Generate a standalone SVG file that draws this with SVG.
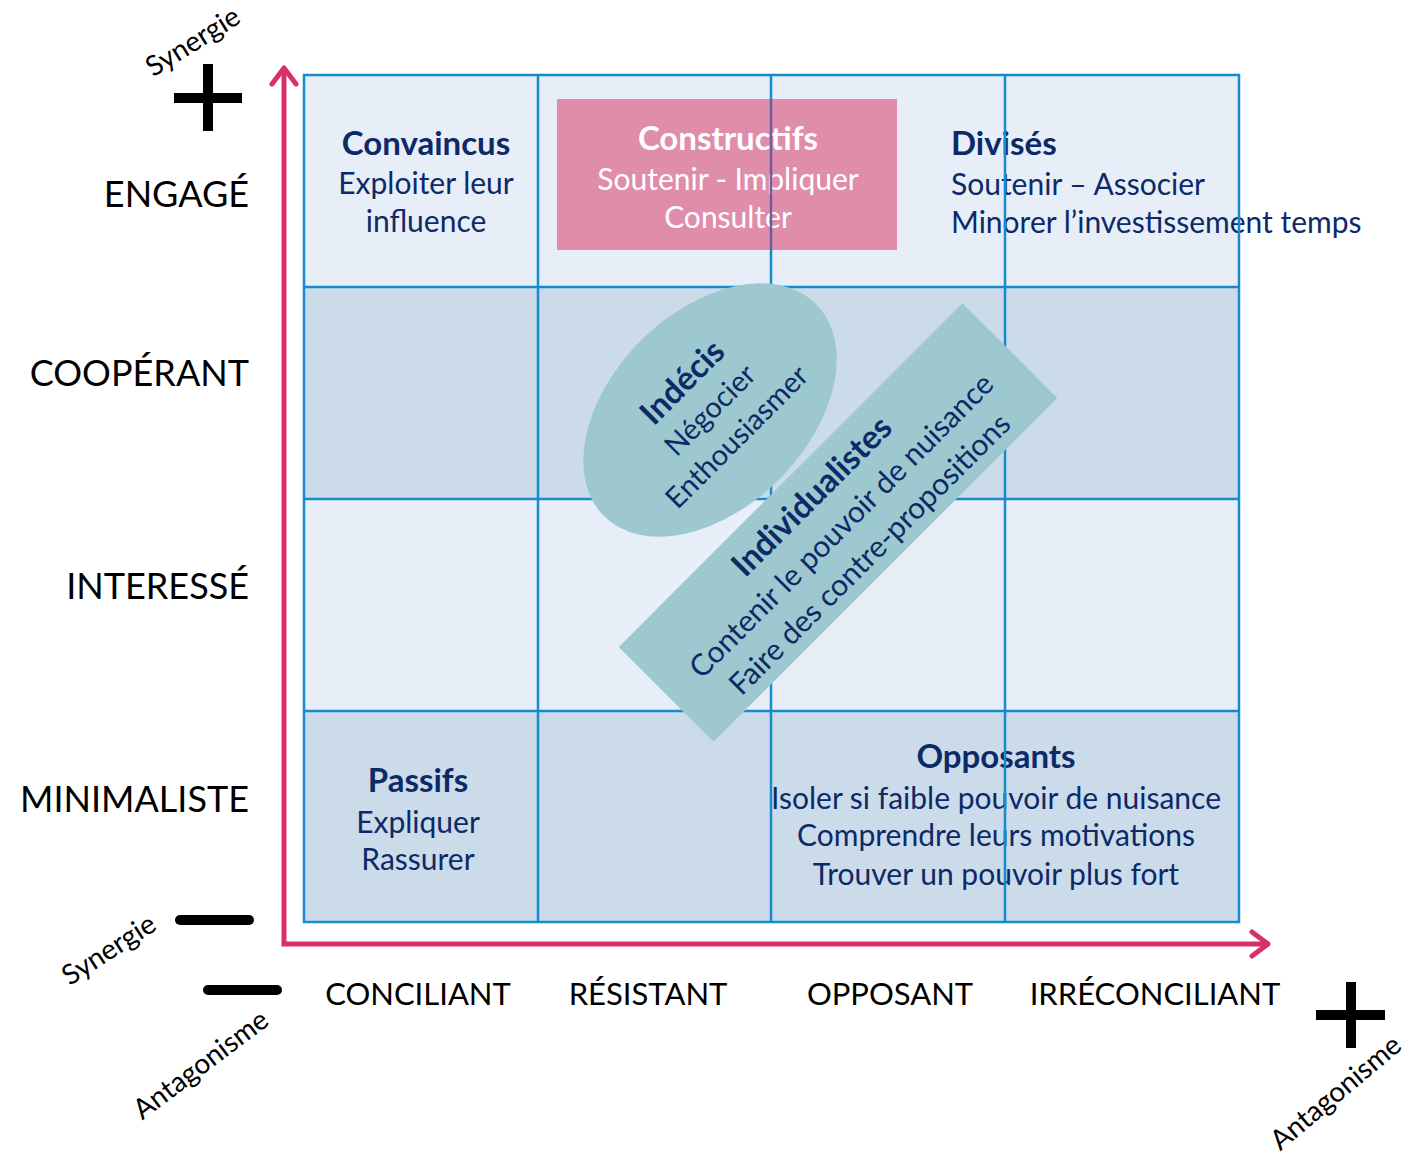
<svg xmlns="http://www.w3.org/2000/svg" width="1411" height="1154" viewBox="0 0 1411 1154">
<style>
.t{font-family:Lato,"Liberation Sans",sans-serif;}
.navy{fill:#0c2a68;}
.b{font-weight:bold;}
.lab{font-family:Lato,"Liberation Sans",sans-serif;fill:#000;font-size:36px;}
.col{font-size:31px;}
.ax{font-family:Lato,"Liberation Sans",sans-serif;fill:#000;font-size:28px;}
.light{fill:#e7eef7;}
.dark{fill:#cbdbea;}
.grid{stroke:#168ccd;stroke-width:2.5;fill:none;}
.shape{fill:#9ec8cf;}
.axis{stroke:#d82f66;stroke-width:5;fill:none;}
.sym{stroke:#000;stroke-width:10;fill:none;}
</style>
<rect width="1411" height="1154" fill="#fff"/>
<g id="grid-cells">
<rect class="light" x="304" y="75" width="935" height="212"/>
<rect class="dark" x="304" y="287" width="935" height="212"/>
<rect class="light" x="304" y="499" width="935" height="212"/>
<rect class="dark" x="304" y="711" width="935" height="211"/>
</g>
<g id="constructifs-box">
<rect x="557" y="99" width="340" height="151" fill="#df8dab"/>
</g>
<g id="convaincus" class="t navy" text-anchor="middle">
<text x="426" y="155" class="b" font-size="33">Convaincus</text>
<text x="426" y="194" font-size="30">Exploiter leur</text>
<text x="426" y="232" font-size="30">influence</text>
</g>
<g id="constructifs" class="t" fill="#fff" text-anchor="middle">
<text x="728" y="150" class="b" font-size="33">Constructifs</text>
<text x="728" y="190" font-size="30">Soutenir - Impliquer</text>
<text x="728" y="228" font-size="30">Consulter</text>
</g>
<g id="divises" class="t navy">
<text x="951" y="155" class="b" font-size="33">Divisés</text>
<text x="951" y="195" font-size="30">Soutenir – Associer</text>
<text x="951" y="233" font-size="30">Minorer l’investissement temps</text>
</g>
<g id="passifs" class="t navy" text-anchor="middle">
<text x="418" y="792" class="b" font-size="33">Passifs</text>
<text x="418" y="833" font-size="30">Expliquer</text>
<text x="418" y="870" font-size="30">Rassurer</text>
</g>
<g id="opposants" class="t navy" text-anchor="middle">
<text x="996" y="768" class="b" font-size="33">Opposants</text>
<text x="996" y="809" font-size="30">Isoler si faible pouvoir de nuisance</text>
<text x="996" y="846" font-size="30">Comprendre leurs motivations</text>
<text x="996" y="885" font-size="30">Trouver un pouvoir plus fort</text>
</g>
<g id="grid-lines" class="grid">
<rect x="304" y="75" width="935" height="847"/>
<path d="M538,75V922M1005,75V922M304,287H1239M304,499H1239M304,711H1239"/>
<path d="M771,75V99M771,250V922"/>
<path d="M771,99V250" stroke="#6b5f9e"/>
</g>
<g id="indecis">
<ellipse cx="710" cy="410" rx="150" ry="98" transform="rotate(-45 710 410)" class="shape"/>
<g class="t navy" text-anchor="middle" transform="translate(710 410) rotate(-45)">
<text x="0" y="-28" class="b" font-size="33">Indécis</text>
<text x="0" y="10" font-size="29">Négocier</text>
<text x="0" y="48" font-size="29">Enthousiasmer</text>
</g>
</g>
<g id="individualistes">
<rect x="-243" y="-67" width="486" height="134" transform="translate(838 522.5) rotate(-45)" class="shape"/>
<g class="t navy" text-anchor="middle" transform="translate(838 522.5) rotate(-45)">
<text x="0" y="-26" class="b" font-size="33">Individualistes</text>
<text x="0" y="15" font-size="30">Contenir le pouvoir de nuisance</text>
<text x="0" y="55" font-size="30">Faire des contre-propositions</text>
</g>
</g>
<g id="row-labels" class="lab" text-anchor="end">
<text x="249" y="207">ENGAGÉ</text>
<text x="249" y="386">COOPÉRANT</text>
<text x="249" y="599">INTERESSÉ</text>
<text x="249" y="812">MINIMALISTE</text>
</g>
<g id="column-labels" class="lab col" text-anchor="middle">
<text x="418" y="1005">CONCILIANT</text>
<text x="648" y="1005">RÉSISTANT</text>
<text x="890" y="1005">OPPOSANT</text>
<text x="1155" y="1005">IRRÉCONCILIANT</text>
</g>
<g id="synergie-plus">
<path class="sym" d="M174,98H242M208,64V131"/>
<text class="ax" text-anchor="middle" transform="translate(193 42) rotate(-32)" y="9">Synergie</text>
</g>
<g id="synergie-minus">
<path class="sym" stroke-linecap="round" d="M180,920H249"/>
<text class="ax" text-anchor="middle" transform="translate(109 950) rotate(-33)" y="9">Synergie</text>
</g>
<g id="antagonisme-minus">
<path class="sym" stroke-linecap="round" d="M208,990H277"/>
<text class="ax" text-anchor="middle" transform="translate(201 1065) rotate(-37)" y="9">Antagonisme</text>
</g>
<g id="antagonisme-plus">
<path class="sym" d="M1316,1015H1385M1351,982V1048"/>
<text class="ax" text-anchor="middle" font-size="27" transform="translate(1336 1093) rotate(-40)" y="9">Antagonisme</text>
</g>
<g id="connectors">
<path class="axis" d="M284,70V944H1266" stroke-linejoin="miter"/>
<path class="axis" stroke-linecap="round" stroke-linejoin="round" d="M272,84L284,68L296,84"/>
<path class="axis" stroke-linecap="round" stroke-linejoin="round" d="M1252,932L1268,944L1252,956"/>
</g>
</svg>
